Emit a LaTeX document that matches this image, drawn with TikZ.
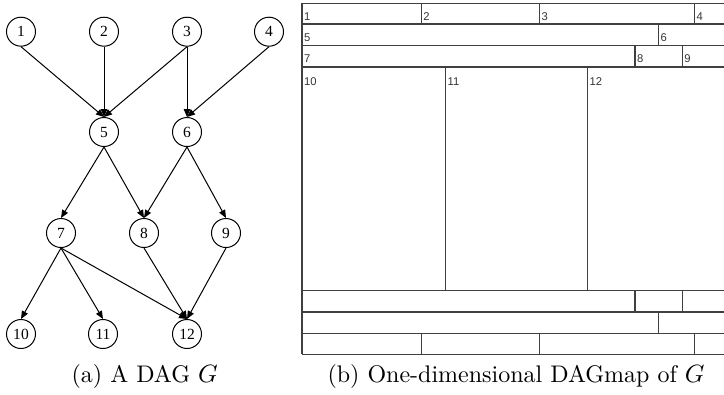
\documentclass[tikz,border=0pt]{standalone}
\usepackage{fontspec}
\newfontfamily\timesf{Liberation Serif}
\newfontfamily\arialf{Liberation Sans}
\usetikzlibrary{arrows.meta}
\begin{document}
\begin{tikzpicture}[x=0.4pt,y=-0.4pt,
  vert/.style={circle,draw,line width=0.4pt,minimum size=11.6pt,inner sep=0pt,font=\timesf\fontsize{6.2}{7}\selectfont},
  edge/.style={line width=0.4pt,-{Triangle[length=3.2pt,width=2.6pt]}},
  cellline/.style={line width=0.45pt,draw=black!75},
  celllabel/.style={anchor=base west,inner sep=0pt,font=\arialf\fontsize{4.5}{5}\selectfont,text=black!80},
  caption/.style={anchor=base,inner sep=0pt,font=\fontsize{9.6}{11}\selectfont}]
\useasboundingbox (0,0) rectangle (724,394);
% DAG
\node[vert] (n1) at (21,31.7) {1};
\node[vert] (n2) at (104,31.7) {2};
\node[vert] (n3) at (187,31.7) {3};
\node[vert] (n4) at (269,31.7) {4};
\node[vert] (n5) at (104,132) {5};
\node[vert] (n6) at (187,132) {6};
\node[vert] (n7) at (61,233) {7};
\node[vert] (n8) at (144,233) {8};
\node[vert] (n9) at (226,233) {9};
\node[vert] (n10) at (21,334) {10};
\node[vert] (n11) at (103,334) {11};
\node[vert] (n12) at (187,334) {12};
\foreach \a/\b in {1/5,2/5,3/5,3/6,4/6,5/7,5/8,6/8,6/9,7/10,7/11,7/12,8/12,9/12}
  \draw[edge] (n\a.south) -- (n\b.north);
\node[caption] (capa) at (144.7,382) {(a) A DAG $G$};
% DAGmap
\coordinate (tl) at (302,3.3);
\coordinate (bl) at (302,354.3);
\draw[cellline] (tl) -- (bl);
\foreach \y in {3.3,24,45.7,67,290.7,312,333.3,354.3}
  \draw[cellline] (302,\y) -- (724,\y);
% row 1 and row 7
\foreach \x in {421.3,539.7,694.5}{
  \draw[cellline] (\x,3.3) -- (\x,24);
  \draw[cellline] (\x,333.3) -- (\x,354.3);
}
% row 2 and row 6
\draw[cellline] (658.7,24) -- (658.7,45.7);
\draw[cellline] (658.7,312) -- (658.7,333.3);
% row 3 and row 5
\foreach \x in {635,682.3}{
  \draw[cellline] (\x,45.7) -- (\x,67);
  \draw[cellline] (\x,290.7) -- (\x,312);
}
% row 4
\foreach \x in {445.7,587.7}
  \draw[cellline] (\x,67) -- (\x,290.7);
% labels
\node[celllabel] (l1) at (303.5,20.3) {1};
\node[celllabel] (l2) at (422.8,20.3) {2};
\node[celllabel] (l3) at (541.2,20.3) {3};
\node[celllabel] (l4) at (696,20.3) {4};
\node[celllabel] (l5) at (303.5,41) {5};
\node[celllabel] (l6) at (660.2,41) {6};
\node[celllabel] (l7) at (303.5,62.5) {7};
\node[celllabel] (l8) at (636.5,62.5) {8};
\node[celllabel] (l9) at (683.8,62.5) {9};
\node[celllabel] (l10) at (303.5,85) {10};
\node[celllabel] (l11) at (447.2,85) {11};
\node[celllabel] (l12) at (589.2,85) {12};
\node[caption] (capb) at (516,382) {(b) One-dimensional DAGmap of $G$};
\end{tikzpicture}
\end{document}
